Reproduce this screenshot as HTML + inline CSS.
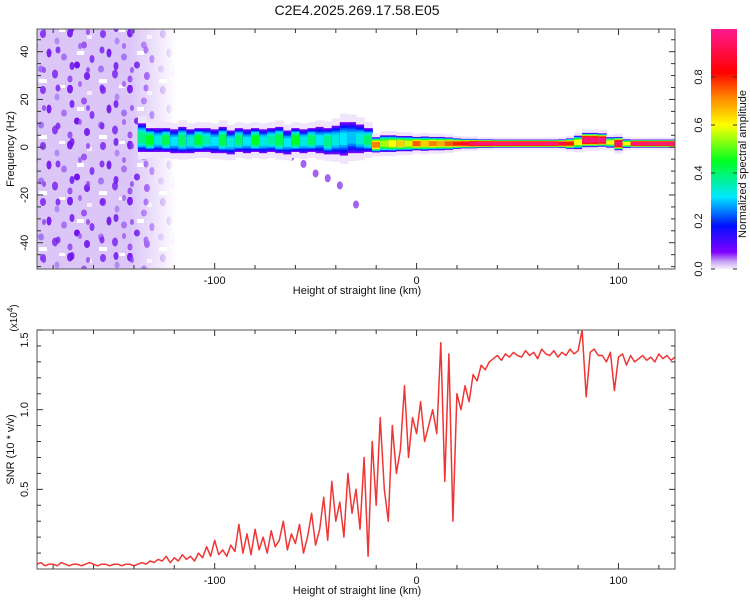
<!DOCTYPE html>
<html><head><meta charset="utf-8">
<style>
html,body{margin:0;padding:0;background:#fff;}
svg{display:block;font-family:"Liberation Sans",sans-serif;}
</style></head>
<body>
<svg id="chart" width="750" height="600" viewBox="0 0 750 600">
<defs>
 <pattern id="dots" x="37" y="29" width="60" height="56" patternUnits="userSpaceOnUse">
  <rect width="60" height="56" fill="#dcc6f8"/>
  <ellipse cx="6" cy="5" rx="3" ry="4" fill="#8a3cf0"/>
  <ellipse cx="20" cy="12" rx="2.5" ry="3.5" fill="#b48af4"/>
  <ellipse cx="33" cy="4" rx="3" ry="4.5" fill="#7a22f0"/>
  <ellipse cx="47" cy="16" rx="3" ry="3.5" fill="#9b55f2"/>
  <ellipse cx="12" cy="24" rx="2.5" ry="4.5" fill="#7a22f0"/>
  <ellipse cx="27" cy="28" rx="3" ry="3.5" fill="#a574f4"/>
  <ellipse cx="55" cy="30" rx="2.5" ry="4" fill="#8a3cf0"/>
  <ellipse cx="40" cy="36" rx="3" ry="3.5" fill="#6e14ef"/>
  <ellipse cx="4" cy="40" rx="3" ry="3.5" fill="#a574f4"/>
  <ellipse cx="18" cy="45" rx="3" ry="4.5" fill="#8a3cf0"/>
  <ellipse cx="33" cy="50" rx="2.5" ry="3.5" fill="#9b55f2"/>
  <ellipse cx="50" cy="47" rx="3" ry="4" fill="#7a22f0"/>
  <rect x="22" y="0" width="6" height="3" fill="#fff"/>
  <rect x="40" y="22" width="7" height="4" fill="#fff"/>
  <rect x="2" y="50" width="8" height="4" fill="#fff"/>
  <rect x="50" y="6" width="5" height="4" fill="#f3ecfd"/>
 </pattern>
 <pattern id="dots2" x="50" y="40" width="44" height="38" patternUnits="userSpaceOnUse">
  <ellipse cx="8" cy="10" rx="2.5" ry="3.5" fill="#7a22f0" opacity="0.85"/>
  <ellipse cx="30" cy="6" rx="2" ry="3" fill="#9b55f2" opacity="0.8"/>
  <ellipse cx="22" cy="26" rx="2.5" ry="4" fill="#6e14ef" opacity="0.85"/>
  <ellipse cx="38" cy="30" rx="2" ry="3" fill="#8a3cf0" opacity="0.8"/>
 </pattern>
 <linearGradient id="fadeR" x1="0" x2="1" y1="0" y2="0">
  <stop offset="0" stop-color="#fff" stop-opacity="0"/>
  <stop offset="0.5" stop-color="#fff" stop-opacity="0.45"/>
  <stop offset="1" stop-color="#fff" stop-opacity="1"/>
 </linearGradient>
 <linearGradient id="cbar" x1="0" x2="0" y1="1" y2="0">
  <stop offset="0" stop-color="#f4eefc"/>
  <stop offset="0.03" stop-color="#c9a8f5"/>
  <stop offset="0.07" stop-color="#8000ff"/>
  <stop offset="0.18" stop-color="#0010ff"/>
  <stop offset="0.3" stop-color="#00e6ff"/>
  <stop offset="0.45" stop-color="#00ff20"/>
  <stop offset="0.6" stop-color="#ffff00"/>
  <stop offset="0.72" stop-color="#ff8000"/>
  <stop offset="0.82" stop-color="#ff0000"/>
  <stop offset="1" stop-color="#ff1a90"/>
 </linearGradient>
 <clipPath id="clipTop"><rect x="37" y="29" width="638" height="240"/></clipPath>
 <clipPath id="clipBot"><rect x="37" y="330" width="638" height="239"/></clipPath>
</defs>
<text x="357" y="15" text-anchor="middle" font-size="14" fill="#111">C2E4.2025.269.17.58.E05</text>
<g id="topPanel"></g>
<g id="botPanel"></g>
<g id="cbPanel"></g>
</svg>
<script>
// ---- data ----
const xRange = [-188, 128];
const freqRange = [-51, 49.5];
const snrRange = [0, 1.5];
const xTicks = [-100, 0, 100];
const freqTicks = [-40, -20, 0, 20, 40];
const snrTicks = [0.5, 1.0, 1.5];
const snrTickLabels = ["0.5", "1.0", "1.5"];
const cbTicks = [0.0, 0.2, 0.4, 0.6, 0.8];

// spectral band (4 km steps from -136)
const bandX = [-136,-132,-128,-124,-120,-116,-112,-108,-104,-100,-96,-92,-88,-84,-80,-76,-72,-68,-64,-60,-56,-52,-48,-44,-40,-36,-32,-28,-24,-20,-16,-12,-8,-4,0,4,8,12,16,20,24,28,32,36,40,44,48,52,56,60,64,68,72,76,80,84,88,92,96,100,104,108,112,116,120,124,128];
const bandCenter = [4,3,3,3,2.5,3,2.5,3,3,2.5,3,2,3,2.5,3,2.5,3,3,2,3,2.5,3,3,2.5,3,3.5,4,3.5,3,1,1.5,1.5,1.5,1.5,1.5,1.5,1.5,1.5,1.5,1.5,1.5,1.5,1.5,1.5,1.5,1.5,1.5,1.5,1.5,1.5,1.5,1.5,1.5,1.5,2,3,3,3,2,1.5,1.5,1.5,1.5,1.5,1.5,1.5,1.5];
const bandHalf = [6,5,5,5,5,5.5,5,5,5,5,5.5,5,5,5,5,5,5,5.5,5,5,5,5,5.5,5.5,6,7,6.5,6,5,3.2,3.5,3.5,3.2,3.2,2.8,3,2.8,2.8,2.6,2.2,2,2,1.8,1.8,1.7,1.7,1.7,1.7,1.7,1.7,1.7,1.7,1.8,2.2,2.8,3,3,2.8,2.2,2.8,1.8,1.7,1.7,1.7,1.7,1.7,1.7];
const bandAmp = [0.38,0.45,0.32,0.42,0.3,0.4,0.33,0.44,0.35,0.3,0.42,0.32,0.4,0.3,0.45,0.32,0.36,0.42,0.3,0.45,0.32,0.4,0.3,0.38,0.32,0.3,0.28,0.32,0.4,0.72,0.55,0.6,0.65,0.58,0.75,0.65,0.72,0.68,0.75,0.8,0.88,0.95,0.97,0.97,0.97,0.97,0.97,0.97,0.97,0.97,0.97,0.97,0.9,0.8,0.6,0.97,0.97,0.97,0.6,0.95,0.6,0.97,0.97,0.97,0.97,0.97,0.97];
// faint downward streak (km, Hz)
const streakX = [-62,-56,-50,-44,-38,-30];
const streakF = [-4,-7,-11,-13,-16,-24];

// SNR (x10^4), 2 km steps from -188
const snrX0 = -188, snrStep = 2;
const snrVals = [
.03,.04,.02,.03,.03,.02,.04,.03,.02,.03,
.03,.02,.03,.04,.03,.02,.03,.03,.02,.03,
.03,.02,.03,.03,.02,.03,.04,.03,.05,.04,
.06,.05,.08,.04,.07,.05,.09,.06,.08,.05,
.10,.07,.14,.08,.18,.09,.12,.08,.15,.11,
.28,.10,.22,.09,.25,.12,.20,.10,.24,.14,
.18,.30,.12,.22,.16,.28,.10,.20,.35,.15,
.25,.45,.18,.55,.30,.42,.20,.60,.35,.50,
.25,.70,.08,.80,.40,.95,.50,.30,.90,.60,
.75,1.15,.70,.95,.85,1.05,.80,.90,1.0,.85,
1.42,.55,1.35,.30,1.10,1.0,1.15,1.05,1.22,1.18,
1.28,1.25,1.30,1.32,1.34,1.31,1.35,1.33,1.36,1.34,
1.33,1.37,1.34,1.36,1.32,1.38,1.35,1.34,1.37,1.33,
1.36,1.34,1.38,1.35,1.37,1.50,1.08,1.36,1.38,1.34,
1.34,1.30,1.36,1.12,1.33,1.35,1.28,1.34,1.30,1.32,
1.34,1.31,1.33,1.30,1.35,1.32,1.34,1.31,1.33];

// ---- layout ----
const L = 37, R = 675, TT = 29, TB = 269, BT = 330, BB = 569;
const NS = "http://www.w3.org/2000/svg";
const sx = v => L + (v - xRange[0]) / (xRange[1] - xRange[0]) * (R - L);
const sf = v => TB - (v - freqRange[0]) / (freqRange[1] - freqRange[0]) * (TB - TT);
const ss = v => BB - (v - snrRange[0]) / (snrRange[1] - snrRange[0]) * (BB - BT);
function mk(tag, attrs, parent) {
  const e = document.createElementNS(NS, tag);
  for (const k in attrs) e.setAttribute(k, attrs[k]);
  parent.appendChild(e);
  return e;
}
const stops = [[0,[232,216,248]],[0.05,[128,0,255]],[0.18,[0,16,255]],[0.3,[0,230,255]],[0.45,[0,255,32]],[0.6,[255,255,0]],[0.72,[255,128,0]],[0.82,[255,0,0]],[1,[255,26,144]]];
function cmap(v) {
  v = Math.max(0, Math.min(1, v));
  for (let i = 1; i < stops.length; i++) {
    if (v <= stops[i][0]) {
      const a = stops[i-1], b = stops[i], t = (v - a[0]) / (b[0] - a[0]);
      const c = a[1].map((x, j) => Math.round(x + (b[1][j] - x) * t));
      return `rgb(${c[0]},${c[1]},${c[2]})`;
    }
  }
  return "rgb(255,26,144)";
}

// ---- top panel ----
const topPanel = document.getElementById('topPanel');
const tg = mk('g', {'clip-path': 'url(#clipTop)'}, topPanel);
const noise = mk('rect', {x: L, y: TT, width: sx(-120) - L, height: TB - TT, fill: 'url(#dots)'}, tg);


mk('rect', {x: L, y: TT, width: sx(-130) - L, height: TB - TT, fill: 'url(#dots2)'}, tg);
mk('rect', {x: sx(-142), y: TT, width: sx(-119) - sx(-142), height: TB - TT, fill: 'url(#fadeR)'}, tg);
const sxPx = Math.abs(sx(4) - sx(0));
streakX.forEach((x, i) => {
  const e = mk('ellipse', {cx: sx(x), cy: sf(streakF[i]), rx: 3, ry: 4, fill: '#8a3cf0', opacity: 0.8}, tg);
  
  
});
const levels = 7;
bandX.forEach((x, i) => {
  const g = mk('g', {}, tg);
  
  
  const c = bandCenter[i], h = bandHalf[i], a = bandAmp[i];
  mk('rect', {x: sx(x) - sxPx/2, y: sf(c + h * 1.5), width: sxPx + 0.6, height: sf(c - h * 1.5) - sf(c + h * 1.5), fill: '#efe4fb'}, g);
  for (let k = 0; k < levels; k++) {
    const frac = 1 - k / levels;
    const hh = h * Math.sqrt(frac);
    const v = 0.05 + (a - 0.05) * (k / (levels - 1));
    mk('rect', {x: sx(x) - sxPx/2, y: sf(c + hh), width: sxPx + 0.6, height: Math.max(1, sf(c - hh) - sf(c + hh)), fill: cmap(v)}, g);
  }
});
mk('rect', {x: L, y: TT, width: R - L, height: TB - TT, fill: 'none', stroke: '#555', 'stroke-width': 1}, topPanel);
for (let v = -180; v <= 120; v += 20) {
  const big = xTicks.includes(v);
  mk('line', {x1: sx(v), x2: sx(v), y1: TB, y2: TB - (big ? 6 : 4), stroke: '#333'}, topPanel);
  mk('line', {x1: sx(v), x2: sx(v), y1: TT, y2: TT + (big ? 6 : 4), stroke: '#333'}, topPanel);
}
xTicks.forEach(v => {
  const t = mk('text', {x: sx(v), y: TB + 15, 'text-anchor': 'middle', 'font-size': 11, fill: '#111'}, topPanel);
  t.textContent = v;
  
  
});
for (let v = -50; v <= 45; v += 5) {
  const big = freqTicks.includes(v);
  mk('line', {x1: L, x2: L + (big ? 6 : 4), y1: sf(v), y2: sf(v), stroke: '#333'}, topPanel);
  mk('line', {x1: R, x2: R - (big ? 6 : 4), y1: sf(v), y2: sf(v), stroke: '#333'}, topPanel);
}
freqTicks.forEach(v => {
  const t = mk('text', {x: 0, y: 0, transform: `translate(28,${sf(v)}) rotate(-90)`, 'text-anchor': 'middle', 'font-size': 11, fill: '#111'}, topPanel);
  t.textContent = v;
  
  
});
let t1 = mk('text', {x: 357, y: TB + 25, 'text-anchor': 'middle', 'font-size': 11, fill: '#111'}, topPanel);
t1.textContent = 'Height of straight line (km)';


let t2 = mk('text', {x: 0, y: 0, transform: `translate(14,${(TT + TB) / 2}) rotate(-90)`, 'text-anchor': 'middle', 'font-size': 11, fill: '#111'}, topPanel);
t2.textContent = 'Frequency (Hz)';



// ---- colorbar ----
const cbPanel = document.getElementById('cbPanel');
const CL = 711, CW = 26, CT = 29, CB = 269;
mk('rect', {x: CL, y: CT, width: CW, height: CB - CT, fill: 'url(#cbar)'}, cbPanel);
cbTicks.forEach(v => {
  const y = CB - v * (CB - CT) / 1.0;
  mk('line', {x1: CL, x2: CL + 4, y1: y, y2: y, stroke: '#333'}, cbPanel);
  mk('line', {x1: CL + CW, x2: CL + CW - 4, y1: y, y2: y, stroke: '#333'}, cbPanel);
  const t = mk('text', {x: 0, y: 0, transform: `translate(702,${y}) rotate(-90)`, 'text-anchor': 'middle', 'font-size': 11, fill: '#111'}, cbPanel);
  t.textContent = v.toFixed(1);
  
  
});
let t3 = mk('text', {x: 0, y: 0, transform: `translate(746,${(CT + CB) / 2 + 15}) rotate(-90)`, 'text-anchor': 'middle', 'font-size': 11, fill: '#111'}, cbPanel);
t3.textContent = 'Normalized spectral amplitude';



// ---- bottom panel ----
const botPanel = document.getElementById('botPanel');
const bg = mk('g', {'clip-path': 'url(#clipBot)'}, botPanel);
const pts = snrVals.map((v, i) => `${sx(snrX0 + i * snrStep).toFixed(1)},${ss(v).toFixed(1)}`).join(' ');
const snrLine = mk('polyline', {points: pts, fill: 'none', stroke: '#f03535', 'stroke-width': 1.5, 'stroke-linejoin': 'round'}, bg);


mk('rect', {x: L, y: BT, width: R - L, height: BB - BT, fill: 'none', stroke: '#555', 'stroke-width': 1}, botPanel);
for (let v = -180; v <= 120; v += 20) {
  const big = xTicks.includes(v);
  mk('line', {x1: sx(v), x2: sx(v), y1: BB, y2: BB - (big ? 6 : 4), stroke: '#333'}, botPanel);
  mk('line', {x1: sx(v), x2: sx(v), y1: BT, y2: BT + (big ? 6 : 4), stroke: '#333'}, botPanel);
}
xTicks.forEach(v => {
  const t = mk('text', {x: sx(v), y: BB + 15, 'text-anchor': 'middle', 'font-size': 11, fill: '#111'}, botPanel);
  t.textContent = v;
  
  
});
for (let k = 1; k <= 15; k++) {
  const v = k / 10;
  const big = k % 5 === 0;
  mk('line', {x1: L, x2: L + (big ? 6 : 4), y1: ss(v), y2: ss(v), stroke: '#333'}, botPanel);
  mk('line', {x1: R, x2: R - (big ? 6 : 4), y1: ss(v), y2: ss(v), stroke: '#333'}, botPanel);
}
snrTicks.forEach((v, i) => {
  const t = mk('text', {x: 0, y: 0, transform: `translate(28,${ss(v) + (i === 2 ? 10 : 0)}) rotate(-90)`, 'text-anchor': 'middle', 'font-size': 11, fill: '#111'}, botPanel);
  t.textContent = snrTickLabels[i];
  
  
});
let t4 = mk('text', {x: 0, y: 0, transform: `translate(17,318) rotate(-90)`, 'text-anchor': 'middle', 'font-size': 10, fill: '#111'}, botPanel);
t4.innerHTML = '(x10<tspan dy="-4" font-size="8">4</tspan><tspan dy="4">)</tspan>';


let t5 = mk('text', {x: 357, y: BB + 25, 'text-anchor': 'middle', 'font-size': 11, fill: '#111'}, botPanel);
t5.textContent = 'Height of straight line (km)';


let t6 = mk('text', {x: 0, y: 0, transform: `translate(14,${(BT + BB) / 2}) rotate(-90)`, 'text-anchor': 'middle', 'font-size': 11, fill: '#111'}, botPanel);
t6.textContent = 'SNR (10 * v/v)';


</script>
</body></html>
